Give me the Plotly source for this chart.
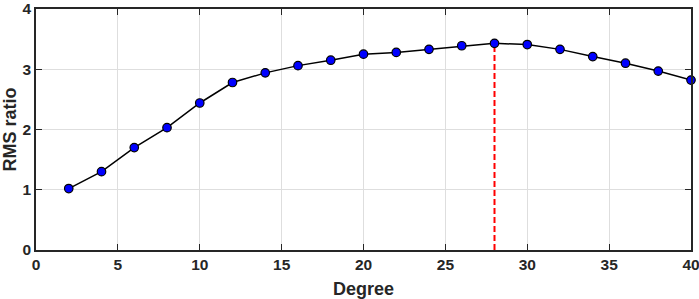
import plotly.graph_objects as go

degree = [2, 4, 6, 8, 10, 12, 14, 16, 18, 20, 22, 24, 26, 28, 30, 32, 34, 36, 38, 40]
rms_ratio = [1.02, 1.30, 1.70, 2.03, 2.44, 2.78, 2.94, 3.06, 3.15, 3.25, 3.28, 3.33, 3.39, 3.43, 3.41, 3.33, 3.21, 3.10, 2.97, 2.82]
peak_degree = 28
peak_value = 3.43

FONT = "Liberation Sans"
INK = "#262626"

fig = go.Figure()
fig.add_trace(go.Scatter(x=[peak_degree, peak_degree], y=[0, peak_value], mode="lines",
                         line=dict(color="red", width=2, dash="6px,3px"), showlegend=False))
fig.add_trace(go.Scatter(x=degree, y=rms_ratio, mode="lines+markers",
                         line=dict(color="black", width=1.5),
                         marker=dict(size=8.5, color="#0000ff", line=dict(color="black", width=1.2)),
                         showlegend=False, cliponaxis=False))

axis_common = dict(showline=True, linecolor=INK, linewidth=1.5, mirror="ticks",
                   ticks="inside", ticklen=6, tickcolor=INK, tickwidth=1.2, showgrid=True,
                   gridcolor="#dedede", gridwidth=1, zeroline=False,
                   ticklabeloverflow="allow",
                   tickfont=dict(family=FONT, size=15.5, color=INK))
fig.update_xaxes(range=[0, 40], dtick=5, title=dict(text="<b>Degree</b>", standoff=12,
                 font=dict(family=FONT, size=18, color=INK)),
                 tickprefix="<b>", ticksuffix="</b>", **axis_common)
fig.update_yaxes(range=[0, 4], dtick=1, title=dict(text="<b>RMS ratio</b>", standoff=6,
                 font=dict(family=FONT, size=18, color=INK)),
                 tickprefix="<b>", ticksuffix="</b>", **axis_common)
fig.update_layout(width=699, height=299, margin=dict(l=36, r=8, t=9, b=49, autoexpand=False),
                  plot_bgcolor="white", paper_bgcolor="white")
fig.write_html("out.html", config={"displayModeBar": False},
               post_script="document.body.style.margin='0';")
